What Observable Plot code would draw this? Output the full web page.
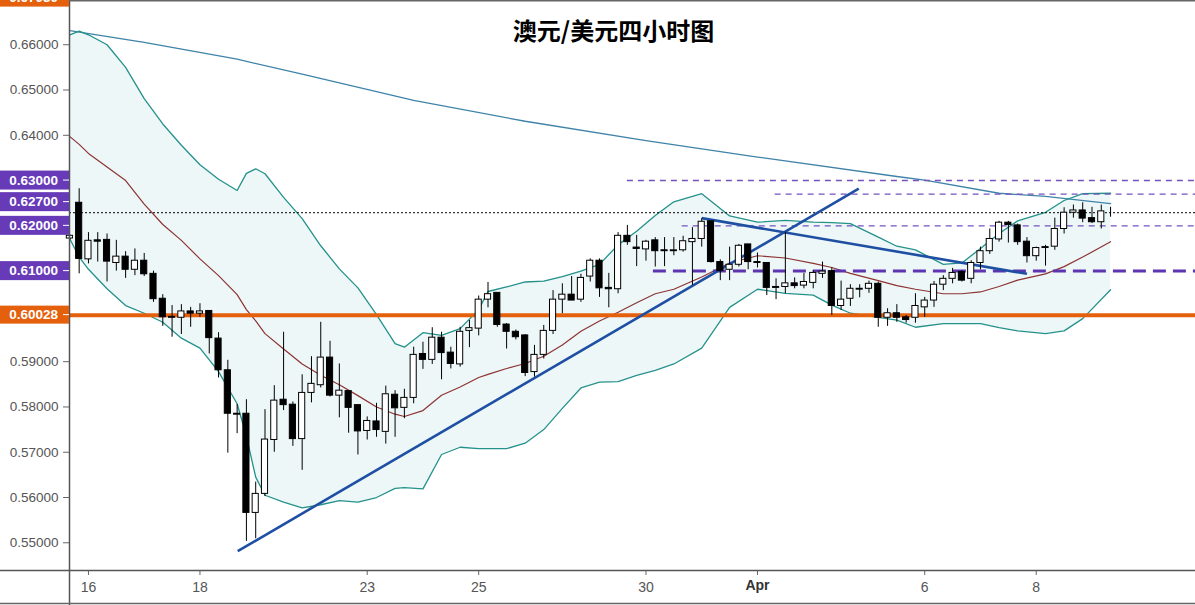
<!DOCTYPE html>
<html><head><meta charset="utf-8">
<script src="https://cdn.jsdelivr.net/npm/d3@7"></script>
<script src="https://cdn.jsdelivr.net/npm/@observablehq/plot@0.6"></script>
<style>
html,body{margin:0;padding:0;background:#fff;}
#chart svg{display:block;overflow:hidden;}
</style></head><body><div id="chart"></div>
<script>
// ---------- data ----------
const title = "澳元/美元四小时图";
const firstIndex = -2; // index of the first candle (Mar 16 first bar = 0)
const opens  = [0.6172,0.6251,0.6126,0.6168,0.6169,0.6118,0.6132,0.6103,0.6123,0.6094,0.6039,0.5999,0.5997,0.6011,0.6006,0.6012,0.5951,0.5881,0.5785,0.5785,0.5566,0.5608,0.5727,0.5816,0.5805,0.5729,0.5831,0.5848,0.5909,0.5825,0.5835,0.5804,0.5747,0.5768,0.5745,0.5827,0.5798,0.5820,0.5917,0.5904,0.5953,0.5920,0.5894,0.5968,0.5973,0.6037,0.6052,0.5982,0.5966,0.5958,0.5877,0.5915,0.5968,0.6037,0.6048,0.6037,0.6088,0.6123,0.6063,0.6060,0.6178,0.6152,0.6148,0.6168,0.6146,0.6144,0.6146,0.6164,0.6171,0.6210,0.6120,0.6103,0.6114,0.6159,0.6120,0.6118,0.6065,0.6065,0.6073,0.6068,0.6074,0.6094,0.6100,0.6023,0.6039,0.6059,0.6061,0.6072,0.5997,0.6007,0.5998,0.5997,0.6020,0.6035,0.6070,0.6083,0.6098,0.6083,0.6118,0.6144,0.6170,0.6207,0.6201,0.6165,0.6133,0.6153,0.6154,0.6193,0.6229,0.6234,0.6217,0.6208,0.6229];
const highs  = [0.6180,0.6282,0.6185,0.6185,0.6182,0.6168,0.6143,0.6149,0.6139,0.6100,0.6048,0.6024,0.6026,0.6020,0.6028,0.6012,0.5964,0.5903,0.5805,0.5816,0.5634,0.5794,0.5847,0.5965,0.5811,0.5871,0.5911,0.5987,0.5945,0.5895,0.5835,0.5805,0.5778,0.5808,0.5846,0.5836,0.5839,0.5932,0.5943,0.5975,0.5965,0.5932,0.5976,0.5991,0.6045,0.6075,0.6052,0.5984,0.5970,0.5960,0.5936,0.5980,0.6057,0.6072,0.6088,0.6093,0.6127,0.6127,0.6095,0.6185,0.6201,0.6179,0.6168,0.6174,0.6174,0.6174,0.6177,0.6196,0.6216,0.6210,0.6125,0.6153,0.6159,0.6159,0.6140,0.6118,0.6083,0.6186,0.6085,0.6095,0.6101,0.6120,0.6107,0.6078,0.6070,0.6070,0.6078,0.6076,0.6017,0.6026,0.6002,0.6050,0.6042,0.6077,0.6090,0.6106,0.6101,0.6123,0.6153,0.6193,0.6210,0.6210,0.6204,0.6174,0.6153,0.6157,0.6217,0.6240,0.6246,0.6251,0.6241,0.6246,0.6241];
const lows   = [0.6168,0.6094,0.6116,0.6120,0.6076,0.6100,0.6084,0.6090,0.6088,0.6031,0.5978,0.5954,0.5960,0.5976,0.5998,0.5917,0.5864,0.5698,0.5741,0.5503,0.5509,0.5602,0.5700,0.5792,0.5713,0.5660,0.5809,0.5842,0.5822,0.5776,0.5742,0.5694,0.5727,0.5733,0.5718,0.5733,0.5774,0.5807,0.5883,0.5894,0.5860,0.5884,0.5888,0.5931,0.5957,0.6019,0.5976,0.5928,0.5948,0.5867,0.5866,0.5906,0.5960,0.6006,0.6035,0.6031,0.6076,0.6042,0.6019,0.6050,0.6157,0.6110,0.6122,0.6109,0.6110,0.6134,0.6142,0.6068,0.6153,0.6118,0.6079,0.6079,0.6109,0.6103,0.6107,0.6046,0.6037,0.6050,0.6061,0.6061,0.6061,0.6084,0.6002,0.6013,0.6022,0.6041,0.6051,0.5976,0.5978,0.5987,0.5985,0.5985,0.5998,0.6020,0.6057,0.6072,0.6076,0.6072,0.6103,0.6137,0.6164,0.6162,0.6157,0.6118,0.6122,0.6111,0.6146,0.6182,0.6217,0.6207,0.6205,0.6193,0.6219];
const closes = [0.6178,0.6127,0.6167,0.6165,0.6121,0.6132,0.6103,0.6123,0.6093,0.6038,0.5998,0.5997,0.6011,0.6006,0.6011,0.5952,0.5881,0.5785,0.5783,0.5566,0.5608,0.5728,0.5814,0.5804,0.5729,0.5831,0.5851,0.5909,0.5825,0.5836,0.5798,0.5746,0.5769,0.5749,0.5828,0.5797,0.5820,0.5915,0.5904,0.5953,0.5919,0.5895,0.5966,0.5974,0.6037,0.6049,0.5981,0.5966,0.5954,0.5875,0.5915,0.5968,0.6037,0.6048,0.6035,0.6085,0.6123,0.6062,0.6060,0.6178,0.6164,0.6149,0.6165,0.6144,0.6144,0.6146,0.6166,0.6171,0.6209,0.6120,0.6100,0.6114,0.6156,0.6120,0.6118,0.6063,0.6063,0.6073,0.6067,0.6076,0.6096,0.6099,0.6023,0.6037,0.6061,0.6061,0.6072,0.5997,0.6007,0.5997,0.5992,0.6023,0.6035,0.6070,0.6083,0.6096,0.6079,0.6118,0.6144,0.6171,0.6207,0.6202,0.6164,0.6133,0.6151,0.6151,0.6193,0.6229,0.6234,0.6216,0.6208,0.6232,0.6229];

const xTickIdx    = [0, 12, 30, 42, 60, 72, 90, 102];
const xTickLabels = ["16","18","23","25","30","Apr","6","8"];
const yTicks = [0.55,0.56,0.57,0.58,0.59,0.60,0.61,0.62,0.63,0.64,0.65,0.66];

const bandIdx   = [-2,-1,0,2,4,6,8,10,12,14,16,17,18,19,21,23,25,27,29,31,33,34,36,38,40,42,43,45,47,49,51,53,55,57,59,61,63,66,69,72,75,78,80,82,85,87,89,92,94,96,98,100,103,105,107,110];
const bandUpper = [0.6622,0.6630,0.6622,0.6600,0.6550,0.6481,0.6425,0.6378,0.6335,0.6303,0.6278,0.6316,0.6326,0.6315,0.6263,0.6216,0.6156,0.6105,0.6063,0.6004,0.5940,0.5932,0.5964,0.5958,0.5973,0.6015,0.6055,0.6065,0.6076,0.6078,0.6088,0.6100,0.6115,0.6158,0.6188,0.6223,0.6253,0.6271,0.6222,0.6208,0.6212,0.6208,0.6207,0.6205,0.6175,0.6155,0.6147,0.6115,0.6118,0.6150,0.6183,0.6211,0.6230,0.6256,0.6271,0.6272];
const bandLower = [0.6171,0.6131,0.6104,0.6061,0.6024,0.6007,0.5987,0.5952,0.5930,0.5878,0.5807,0.5735,0.5645,0.5605,0.5590,0.5577,0.5584,0.5593,0.5590,0.5600,0.5620,0.5622,0.5619,0.5695,0.5711,0.5708,0.5708,0.5708,0.5720,0.5750,0.5797,0.5842,0.5855,0.5856,0.5870,0.5881,0.5895,0.5930,0.6020,0.6060,0.6051,0.6047,0.6025,0.6007,0.5998,0.5992,0.5976,0.5984,0.5984,0.5984,0.5975,0.5968,0.5962,0.5968,0.5995,0.6059];
const bandMid   = [0.6397,0.6380,0.6360,0.6330,0.6300,0.6248,0.6203,0.6168,0.6127,0.6090,0.6048,0.6015,0.5990,0.5962,0.5928,0.5895,0.5870,0.5849,0.5825,0.5800,0.5784,0.5779,0.5792,0.5826,0.5844,0.5865,0.5872,0.5885,0.5896,0.5912,0.5937,0.5967,0.5990,0.6009,0.6030,0.6050,0.6060,0.6087,0.6118,0.6134,0.6129,0.6117,0.6108,0.6095,0.6079,0.6068,0.6060,0.6050,0.6050,0.6054,0.6066,0.6080,0.6094,0.6110,0.6131,0.6165];

const maIdx  = [-2, 6, 16, 23, 35, 47, 60, 72, 87, 90, 98, 103, 110];
const maVals = [0.6631,0.6605,0.6568,0.6535,0.6477,0.6431,0.6388,0.6352,0.6309,0.6301,0.6272,0.6265,0.6249];

const trendX1 = [16.06, 66.0];
const trendY1 = [0.54815, 0.6217];
const trendX2 = [82.9, 101.0];
const trendY2 = [0.6282, 0.6094];

const dashedLevels = [0.63, 0.627, 0.62];
const dashedStart  = [58.0, 73.9, 63.9];
const keyLevel = 0.61, keyLevelStart = 60.8;
const supportLevel = 0.60028;
const lastPrice = 0.6229;
const purpleLabels = [0.63, 0.627, 0.62, 0.61];
const orangeLabels = [0.67030, 0.60028];

// ---------- chart ----------
const W = 1195, H = 605;
const xDomain = [-2.04, 119.14];
const yDomain = [0.54388, 0.66977];
const candles = opens.map((o, k) => ({i: firstIndex + k, o, h: highs[k], l: lows[k], c: closes[k]}));
const band = bandIdx.map((i, k) => ({i, u: bandUpper[k], l: bandLower[k], m: bandMid[k]}));
const ma = maIdx.map((i, k) => ({i, v: maVals[k]}));
const trends = trendX1.map((x, k) => ({x1: x, y1: trendY1[k], x2: trendX2[k], y2: trendY2[k]}));
const levels = dashedLevels.map((v, k) => ({v, s: dashedStart[k]}));
const fmt = d3.format(".5f");
const teal = "#24918b", purple = "#673ab7", orange = "#e5600c";

const chart = Plot.plot({
  width: W, height: H,
  marginLeft: 69, marginRight: 0, marginTop: 0, marginBottom: 35,
  style: {fontFamily: "'Liberation Sans', Arial, sans-serif", background: "#fff", overflow: "hidden"},
  x: {domain: xDomain, axis: null},
  y: {domain: yDomain, axis: null},
  color: {type: "identity"},
  marks: [
    Plot.areaY(band, {x: "i", y1: "l", y2: "u", fill: "#edf7f8"}),
    Plot.lineY(ma, {x: "i", y: "v", stroke: "#3f83a8", strokeWidth: 1.3}),
    Plot.lineY(band, {x: "i", y: "u", stroke: teal, strokeWidth: 1.3}),
    Plot.lineY(band, {x: "i", y: "l", stroke: teal, strokeWidth: 1.3}),
    Plot.lineY(band, {x: "i", y: "m", stroke: "#8e3333", strokeWidth: 1.2}),
    Plot.ruleY([lastPrice], {stroke: "#000", strokeWidth: 1, strokeDasharray: "2,2"}),
    Plot.ruleY(levels, {y: "v", x1: "s", x2: xDomain[1], stroke: "#7651c0", strokeWidth: 1.4, strokeDasharray: "6,5"}),
    Plot.ruleY([keyLevel], {x1: keyLevelStart, x2: xDomain[1], stroke: "#5e35b1", strokeWidth: 3, strokeDasharray: "13,7"}),
    Plot.ruleY([supportLevel], {stroke: orange, strokeWidth: 4}),
    Plot.link(trends, {x1: "x1", y1: "y1", x2: "x2", y2: "y2", stroke: "#1f4fa3", strokeWidth: 2.6}),
    Plot.ruleX(candles, {x: "i", y1: "l", y2: "h", stroke: "#000", strokeWidth: 1}),
    Plot.rect(candles, {x1: d => d.i - 0.33, x2: d => d.i + 0.33, y1: "o", y2: "c",
      fill: d => d.c >= d.o ? "#fff" : "#000", stroke: "#000", strokeWidth: 1}),
    Plot.axisY(yTicks, {tickFormat: fmt, tickSize: 6, tickPadding: 5, fontSize: 13.5, stroke: "#666", fill: "#555"}),
    Plot.axisX(xTickIdx, {tickFormat: d => { const l = xTickLabels[xTickIdx.indexOf(d)]; return l === "Apr" ? "" : l; },
      tickSize: 5, tickPadding: 7, fontSize: 14, stroke: "#666", fill: "#555"}),
    Plot.text(xTickIdx.filter((d, k) => xTickLabels[k] === "Apr"), {x: d => d, text: d => xTickLabels[xTickIdx.indexOf(d)],
      frameAnchor: "bottom", dy: 19, fontSize: 14, fontWeight: "bold", fill: "#333"}),
    Plot.text([title], {frameAnchor: "top-left", dx: 544, dy: 32, textAnchor: "middle", lineAnchor: "middle",
      fontSize: 24, fontWeight: "bold", fill: "#000", fontFamily: "'Noto Sans CJK SC', sans-serif"})
  ]
});

document.getElementById("chart").appendChild(chart);

// frame lines and price tags, positioned with the plot's own y scale
const svg = d3.select(chart);
const ys = chart.scale("y");
const g = svg.append("g");
g.append("line").attr("x1", 69.5).attr("x2", 69.5).attr("y1", 0).attr("y2", H).attr("stroke", "#555").attr("stroke-width", 1.5);
g.append("line").attr("x1", 0).attr("x2", W).attr("y1", 570.5).attr("y2", 570.5).attr("stroke", "#555").attr("stroke-width", 1.5);
g.append("line").attr("x1", 0).attr("x2", W).attr("y1", 0.75).attr("y2", 0.75).attr("stroke", "#666").attr("stroke-width", 1.5);
g.append("line").attr("x1", 0).attr("x2", W).attr("y1", 603.5).attr("y2", 603.5).attr("stroke", "#666").attr("stroke-width", 1.5);

function tag(v, color, shift, h) {
  const cy = ys.apply(v) + shift;
  const t = g.append("g");
  t.append("rect").attr("x", 0).attr("y", cy - h / 2).attr("width", 69).attr("height", h).attr("fill", color);
  t.append("line").attr("x1", 63).attr("x2", 69).attr("y1", cy).attr("y2", cy).attr("stroke", "#fff").attr("stroke-width", 1);
  t.append("text").attr("x", 58).attr("y", cy).attr("dy", "0.35em").attr("text-anchor", "end")
    .attr("fill", "#fff").attr("font-weight", "bold").attr("font-size", 13.5)
    .attr("font-family", "'Liberation Sans', Arial, sans-serif").text(fmt(v));
}
purpleLabels.forEach(v => tag(v, purple, v === 0.627 ? 8 : 0, 19));
orangeLabels.forEach(v => tag(v, orange, 0, 18));
</script></body></html>
